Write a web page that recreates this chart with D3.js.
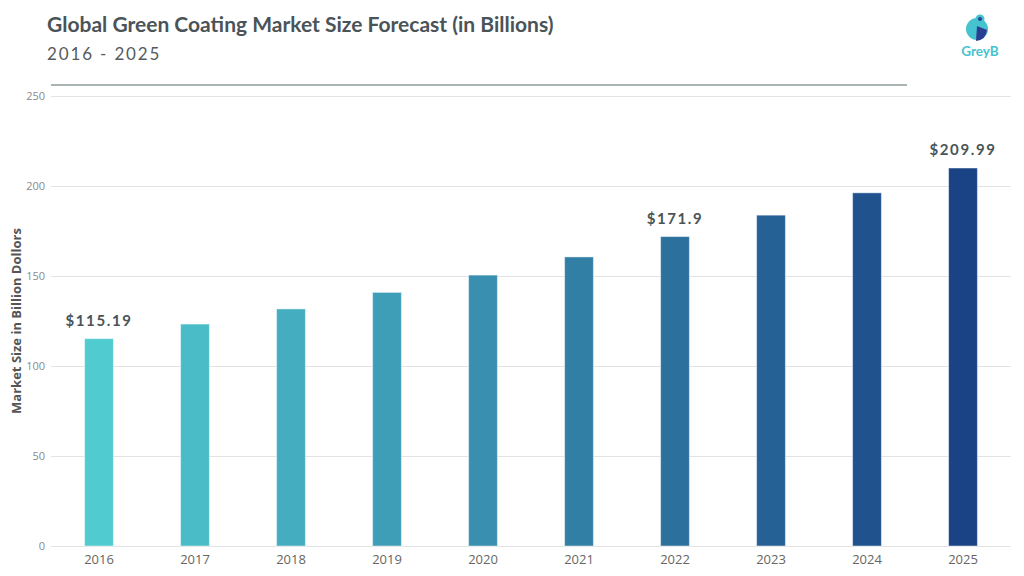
<!DOCTYPE html>
<html><head><meta charset="utf-8">
<script src="https://cdn.jsdelivr.net/npm/d3@7"></script>
<style>
body{margin:0;background:#fff;}
svg{display:block;}
</style></head>
<body>
<svg id="chart" width="1024" height="576"></svg>
<script>
const years = ["2016","2017","2018","2019","2020","2021","2022","2023","2024","2025"];
const values = [115.19, 123.3, 131.7, 140.9, 150.5, 160.6, 171.9, 183.8, 196.2, 209.99];
const labelledYears = ["2016","2022","2025"];
const yTicks = [0, 50, 100, 150, 200, 250];

const svg = d3.select("#chart");
const W = 1024, H = 576;
const m = {left: 51, right: 13, top: 96, bottom: 30};

const x = d3.scaleBand().domain(years).range([m.left, W - m.right]).paddingInner(0.7).paddingOuter(0.35);
const y = d3.scaleLinear().domain([0, 250]).range([H - m.bottom, m.top]);
const color = d3.scaleLinear().domain([0, years.length - 1]).range(["#50cbcf", "#1a4386"]).interpolate(d3.interpolateRgb);

// Title
svg.append("text").attr("x", 47).attr("y", 32)
  .attr("font-family", "Lato").attr("font-weight", 700).attr("font-size", 21)
  .attr("fill", "#4a5458").text("Global Green Coating Market Size Forecast (in Billions)");
svg.append("text").attr("x", 47).attr("y", 60)
  .attr("font-family", "Lato").attr("font-size", 17).attr("letter-spacing", 1.85)
  .attr("fill", "#555b5e").text("2016 - 2025");

// separator line
svg.append("line").attr("x1", 51).attr("x2", 907).attr("y1", 85).attr("y2", 85)
  .attr("stroke", "#aab3b3").attr("stroke-width", 2);

// Logo
const logo = svg.append("g").attr("transform", "translate(977,29)");
logo.append("circle").attr("cx", 0).attr("cy", 0).attr("r", 11).attr("fill", "#45c3cf");
logo.append("circle").attr("cx", 3).attr("cy", -10).attr("r", 4.5).attr("fill", "#45c3cf");
logo.append("path").attr("d", "M0,-3 L10,1 Q9,11 -1,12 Z").attr("fill", "#2a3f91");
logo.append("circle").attr("cx", 3).attr("cy", -10).attr("r", 2).attr("fill", "#2a3f91");
svg.append("text").attr("x", 980).attr("y", 56).attr("text-anchor", "middle")
  .attr("font-family", "Lato").attr("font-weight", 700).attr("font-size", 13.5)
  .attr("fill", "#45c3cf").text("GreyB");

// Y axis with gridlines
const yAxis = svg.append("g").attr("transform", `translate(${m.left},0)`)
  .call(d3.axisLeft(y).tickValues(yTicks).tickSize(-(W - m.right - m.left)).tickPadding(6));
yAxis.select(".domain").remove();
yAxis.selectAll(".tick line").attr("stroke", "#e3e3e3").attr("stroke-width", 1);
yAxis.selectAll(".tick text").attr("font-family", "Open Sans").attr("font-size", 11).attr("fill", "#8a8a8a");

// Y axis title
svg.append("text").attr("transform", "translate(21,321) rotate(-90)").attr("text-anchor", "middle")
  .attr("font-family", "Open Sans").attr("font-weight", 700).attr("font-size", 13)
  .attr("fill", "#555").text("Market Size in Billion Dollors");

// X axis
const xAxis = svg.append("g").attr("transform", `translate(0,${H - m.bottom})`)
  .call(d3.axisBottom(x).tickSize(0).tickPadding(9));
xAxis.select(".domain").remove();
xAxis.selectAll(".tick text").attr("font-family", "Open Sans").attr("font-size", 13).attr("fill", "#666");

// Bars
svg.append("g").selectAll("rect").data(years).join("rect")
  .attr("x", d => x(d)).attr("width", x.bandwidth())
  .attr("y", (d, i) => y(values[i])).attr("height", (d, i) => y(0) - y(values[i]))
  .attr("fill", (d, i) => color(i))
  .attr("stroke", "rgba(255,255,255,0.45)").attr("stroke-width", 1);

// Value labels
svg.append("g").selectAll("text").data(years.filter(d => labelledYears.includes(d))).join("text")
  .attr("x", d => x(d) + x.bandwidth() / 2)
  .attr("y", d => y(values[years.indexOf(d)]) - 13)
  .attr("text-anchor", "middle")
  .attr("font-family", "Lato").attr("font-weight", 700).attr("font-size", 15).attr("letter-spacing", 1.6)
  .attr("fill", "#4a5458")
  .text(d => "$" + values[years.indexOf(d)]);
</script>
</body></html>
